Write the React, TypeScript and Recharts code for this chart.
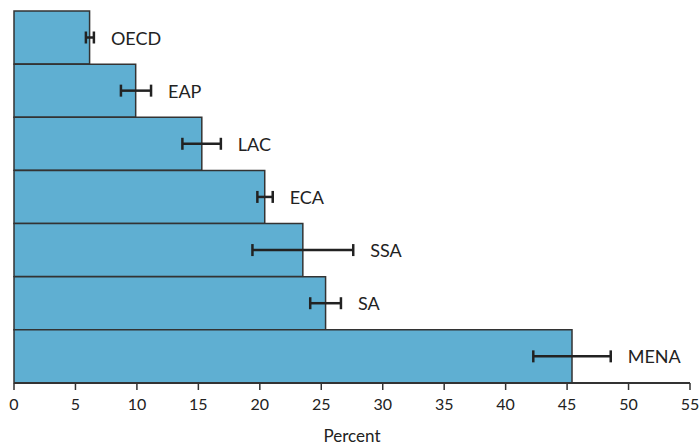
import React from "react";
import { BarChart, Bar, XAxis, YAxis, ErrorBar, LabelList } from "recharts";

const categories = ["OECD", "EAP", "LAC", "ECA", "SSA", "SA", "MENA"];
const values = [6.15, 9.9, 15.28, 20.4, 23.5, 25.35, 45.4];
const errorLow = [5.85, 8.7, 13.7, 19.8, 19.4, 24.1, 42.25];
const errorHigh = [6.5, 11.15, 16.83, 21.05, 27.6, 26.6, 48.55];
const xTicks = [0, 5, 10, 15, 20, 25, 30, 35, 40, 45, 50, 55];
const xLabel = "Percent";

const data = categories.map((name, i) => ({
  name,
  value: values[i],
  err: [values[i] - errorLow[i], errorHigh[i] - values[i]],
}));

const FONT = "Lato, 'Open Sans', sans-serif";

const RegionLabel = (props: any) => {
  const { x, y, width, height, value } = props;
  const i = categories.indexOf(value);
  if (i < 0) return null;
  const hiX = x + (width * errorHigh[i]) / values[i];
  return (
    <text
      x={hiX + 17}
      y={y + height / 2}
      dominantBaseline="central"
      fontFamily={FONT}
      fontSize={18}
      fill="#222"
    >
      {value}
    </text>
  );
};

export default function App() {
  return (
    <div style={{ position: "absolute", left: 0, top: 0, width: 700, height: 446, background: "#fff" }}>
      <BarChart
        width={700}
        height={446}
        layout="vertical"
        data={data}
        margin={{ top: 11, right: 10, bottom: 0, left: 14 }}
        barCategoryGap={0}
      >
        <XAxis
          type="number"
          domain={[0, 55]}
          ticks={xTicks}
          interval={0}
          height={63}
          tickSize={7}
          tickMargin={9}
          axisLine={{ stroke: "#333", strokeWidth: 2 }}
          tickLine={{ stroke: "#333", strokeWidth: 1.5 }}
          tick={{ fill: "#222", fontSize: 16, fontFamily: FONT }}
          label={{ value: xLabel, position: "insideBottom", offset: 4, fill: "#222", fontSize: 17, fontFamily: FONT }}
        />
        <YAxis
          type="category"
          dataKey="name"
          width={0}
          tick={false}
          tickLine={false}
          axisLine={{ stroke: "#333", strokeWidth: 2 }}
        />
        <Bar dataKey="value" fill="#5fafd2" stroke="#333" strokeWidth={1.5} isAnimationActive={false}>
          <ErrorBar dataKey="err" direction="x" width={6} stroke="#222" strokeWidth={2.5} isAnimationActive={false} />
          <LabelList dataKey="name" content={RegionLabel} />
        </Bar>
      </BarChart>
    </div>
  );
}
